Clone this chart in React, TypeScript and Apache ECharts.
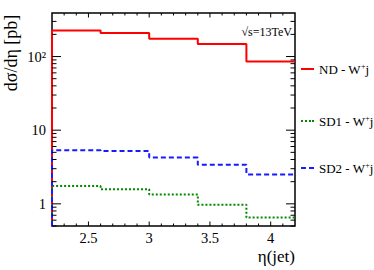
import React, { useEffect, useRef } from "react";
import * as echarts from "echarts";

// ---- data ----
const binEdges = [2.2, 2.6, 3.0, 3.4, 3.8, 4.2];
const ndValues = [226, 209, 174, 148, 85.5];
const sd1Values = [1.74, 1.58, 1.34, 0.97, 0.65];
const sd2Values = [5.34, 5.22, 4.24, 3.4, 2.51];
const seriesNames = ["ND - W+j", "SD1 - W+j", "SD2 - W+j"];
const xMajorLabels = [2.5, 3, 3.5, 4];
const yMajorTicks = [1, 10, 100];
const yMinorTicks = [0.5, 0.6, 0.7, 0.8, 0.9, 2, 3, 4, 5, 6, 7, 8, 9, 20, 30, 40, 50, 60, 70, 80, 90, 200, 300];
const xTickValues = [2.3, 2.4, 2.5, 2.6, 2.7, 2.8, 2.9, 3.0, 3.1, 3.2, 3.3, 3.4, 3.5, 3.6, 3.7, 3.8, 3.9, 4.0, 4.1];

const X_MIN = 2.2;
const X_MAX = 4.2;
const Y_MIN = 0.5;
const Y_MAX = 390;

const FONT = "'Liberation Serif', 'Times New Roman', serif";

const ICON_SOLID = "path://M0,0H13V2H0Z";
const ICON_DOTTED = "path://M0,0H2V2H0Z M4,0H6V2H4Z M8,0H10V2H8Z M11,0H13V2H11Z";
const ICON_DASHED = "path://M0,0H5V2H0Z M8,0H13V2H8Z";

function stepPoints(values: number[]) {
  const pts: number[][] = [[binEdges[0], Y_MIN]];
  values.forEach((v, i) => {
    pts.push([binEdges[i], v]);
    pts.push([binEdges[i + 1], v]);
  });
  return pts;
}

function isMajorX(v: number) {
  return xMajorLabels.some((m) => Math.abs(m - v) < 1e-6);
}

function legendFor(name: string, top: number, icon: string) {
  const base = name.replace("+j", "");
  return {
    data: [{ name, icon }],
    left: 301,
    top,
    orient: "vertical",
    padding: 0,
    itemWidth: 13,
    itemHeight: 2,
    selectedMode: false,
    formatter: () => `{n|${base}}{s|+}{n|j}`,
    textStyle: {
      fontFamily: FONT,
      fontSize: 13,
      color: "#000",
      rich: {
        n: { fontFamily: FONT, fontSize: 13, color: "#000", lineHeight: 14 },
        s: { fontFamily: FONT, fontSize: 8, color: "#000", verticalAlign: "top", lineHeight: 14 },
      },
    },
  };
}

export default function App() {
  const ref = useRef<HTMLDivElement>(null);
  useEffect(() => {
    if (!ref.current) return;
    const chart = echarts.init(ref.current, undefined, { renderer: "svg" });
    const yTickData = [
      ...yMajorTicks.map((v) => [X_MIN, v, 1]),
      ...yMinorTicks.map((v) => [X_MIN, v, 0]),
    ];
    const xTickData = xTickValues.map((v) => [v, Y_MIN, isMajorX(v) ? 1 : 0]);

    const option: any = {
      animation: false,
      backgroundColor: "#fff",
      grid: {
        left: 52,
        right: 79,
        top: 13,
        bottom: 44,
        show: true,
        borderColor: "#000",
        borderWidth: 1.5,
        containLabel: false,
        outerBoundsMode: "none",
      },
      xAxis: {
        type: "value",
        min: X_MIN,
        max: X_MAX,
        interval: 0.1,
        axisLine: { show: false },
        axisTick: { show: false },
        splitLine: { show: false },
        axisLabel: {
          margin: 4,
          fontFamily: FONT,
          fontSize: 14.5,
          color: "#000",
          showMinLabel: false,
          showMaxLabel: false,
          formatter: (v: number) => (isMajorX(v) ? String(Math.round(v * 10) / 10) : ""),
        },
      },
      yAxis: {
        type: "log",
        logBase: 10,
        min: Y_MIN,
        max: Y_MAX,
        axisLine: { show: false },
        axisTick: { show: false },
        splitLine: { show: false },
        axisLabel: {
          margin: 6,
          fontFamily: FONT,
          fontSize: 14.5,
          color: "#000",
          showMinLabel: false,
          showMaxLabel: false,
          formatter: (v: number) => {
            const r = Math.round(v);
            if (r === 100) return "10²";
            if (r === 10) return "10";
            if (r === 1) return "1";
            return "";
          },
        },
      },
      legend: [
        legendFor(seriesNames[0], 62, ICON_SOLID),
        legendFor(seriesNames[1], 114, ICON_DOTTED),
        legendFor(seriesNames[2], 161, ICON_DASHED),
      ],
      graphic: [
        {
          type: "text",
          x: 11,
          y: 53,
          rotation: Math.PI / 2,
          style: {
            text: "dσ/dη [pb]",
            align: "center",
            verticalAlign: "middle",
            fontFamily: FONT,
            fontSize: 18,
            fill: "#000",
          },
        },
        {
          type: "text",
          x: 295,
          y: 256,
          style: {
            text: "η(jet)",
            align: "right",
            verticalAlign: "middle",
            fontFamily: FONT,
            fontSize: 17,
            fill: "#000",
          },
        },
        {
          type: "text",
          x: 292,
          y: 32,
          style: {
            text: "√s=13TeV",
            align: "right",
            verticalAlign: "middle",
            fontFamily: FONT,
            fontSize: 12,
            fill: "#000",
          },
        },
      ],
      series: [
        {
          name: seriesNames[0],
          type: "line",
          data: stepPoints(ndValues),
          symbol: "none",
          color: "#ff0000",
          lineStyle: { color: "#ff0000", width: 2 },
          z: 3,
        },
        {
          name: seriesNames[1],
          type: "line",
          data: stepPoints(sd1Values),
          symbol: "none",
          color: "#008a00",
          lineStyle: { color: "#008a00", width: 2, type: [2, 2] },
          z: 3,
        },
        {
          name: seriesNames[2],
          type: "line",
          data: stepPoints(sd2Values),
          symbol: "none",
          color: "#1a1aff",
          lineStyle: { color: "#1a1aff", width: 2, type: [5, 3] },
          z: 3,
        },
        {
          name: "yticks",
          type: "custom",
          data: yTickData,
          encode: { x: 0, y: 1 },
          silent: true,
          z: 4,
          renderItem: (params: any, api: any) => {
            const v = api.value(1);
            const major = api.value(2) === 1;
            const p = api.coord([X_MIN, v]);
            const cs = params.coordSys;
            const len = major ? 9 : 4.5;
            const st = { stroke: "#000", lineWidth: 1 };
            return {
              type: "group",
              children: [
                { type: "line", shape: { x1: cs.x, y1: p[1], x2: cs.x + len, y2: p[1] }, style: st },
                {
                  type: "line",
                  shape: { x1: cs.x + cs.width - len, y1: p[1], x2: cs.x + cs.width, y2: p[1] },
                  style: st,
                },
              ],
            };
          },
        },
        {
          name: "xticks",
          type: "custom",
          data: xTickData,
          encode: { x: 0, y: 1 },
          silent: true,
          z: 4,
          renderItem: (params: any, api: any) => {
            const v = api.value(0);
            const major = api.value(2) === 1;
            const p = api.coord([v, Y_MIN]);
            const cs = params.coordSys;
            const len = major ? 4.5 : 2.5;
            const st = { stroke: "#000", lineWidth: 1 };
            return {
              type: "group",
              children: [
                { type: "line", shape: { x1: p[0], y1: cs.y + cs.height, x2: p[0], y2: cs.y + cs.height - len }, style: st },
                { type: "line", shape: { x1: p[0], y1: cs.y, x2: p[0], y2: cs.y + len }, style: st },
              ],
            };
          },
        },
      ],
    };
    chart.setOption(option);
    return () => chart.dispose();
  }, []);
  return (
    <div
      ref={ref}
      style={{ position: "fixed", left: 0, top: 0, width: 374, height: 270, background: "#fff" }}
    />
  );
}
